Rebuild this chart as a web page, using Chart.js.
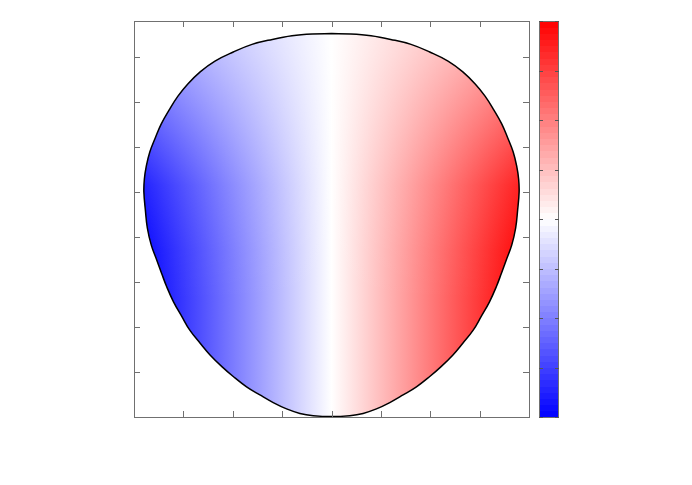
<!DOCTYPE html>
<html>
<head>
<meta charset="utf-8">
<script src="https://cdn.jsdelivr.net/npm/chart.js@4/dist/chart.umd.min.js"></script>
<style>
  html, body { margin: 0; padding: 0; background: #fff; }
  #wrap { width: 692px; height: 485px; }
</style>
</head>
<body>
<div id="wrap"><canvas id="shapeChart"></canvas></div>
<script>
// outline of the shape, clockwise from the top
const boundaryX = [4.00,
                   4.39, 4.80, 5.20, 5.61, 5.99, 6.36, 6.66, 6.91, 7.11, 7.29, 7.45, 7.57, 7.68, 7.75, 7.79, 7.80,
                   7.77, 7.73, 7.65, 7.54, 7.44, 7.34, 7.20, 7.03, 6.87, 6.66, 6.46, 6.22, 5.99, 5.72, 5.45, 5.18, 4.91, 4.64, 4.37, 4.00,
                   3.63, 3.36, 3.09, 2.82, 2.55, 2.28, 2.01, 1.78, 1.54, 1.34, 1.13, 0.97, 0.80, 0.66, 0.56, 0.46, 0.35, 0.27, 0.23,
                   0.20, 0.21, 0.25, 0.32, 0.43, 0.55, 0.71, 0.89, 1.09, 1.34, 1.64, 2.01, 2.39, 2.80, 3.20, 3.61, 4.00];
const boundaryY = [8.52,
                   8.51, 8.47, 8.39, 8.28, 8.11, 7.91, 7.67, 7.40, 7.13, 6.82, 6.51, 6.20, 5.89, 5.58, 5.29, 5.00,
                   4.60, 4.20, 3.82, 3.49, 3.19, 2.90, 2.56, 2.23, 1.93, 1.64, 1.38, 1.12, 0.90, 0.67, 0.49, 0.32, 0.18, 0.08, 0.03, 0.01,
                   0.03, 0.08, 0.18, 0.32, 0.49, 0.67, 0.90, 1.12, 1.38, 1.64, 1.93, 2.23, 2.56, 2.90, 3.19, 3.49, 3.82, 4.20, 4.60,
                   5.00, 5.29, 5.58, 5.89, 6.20, 6.51, 6.82, 7.13, 7.40, 7.67, 7.91, 8.11, 8.28, 8.39, 8.47, 8.51, 8.52];

const xTicks = [0, 1, 2, 3, 4, 5, 6, 7, 8];
const yTicks = [0, 1, 2, 3, 4, 5, 6, 7, 8];
const colorbarTicks = [-1, -0.75, -0.5, -0.25, 0, 0.25, 0.5, 0.75, 1];
const colorRangeX = [0.15, 7.85];      // x where the fill reaches full blue / full red
const fadeY = [8.5, 8.05, 6.4, 5.15, 3.7, 2.6];   // heights of the whitening toward the top
const fadeAlpha = [0.62, 0.57, 0.32, 0.13, 0.03, 0];

const points = boundaryX.map(function (x, i) { return { x: x, y: boundaryY[i] }; });

function sideGradient(context) {
    const chart = context.chart;
    if (!chart.chartArea) return 'rgba(0,0,0,0)';
    const xs = chart.scales.x;
    const g = chart.ctx.createLinearGradient(xs.getPixelForValue(colorRangeX[0]), 0, xs.getPixelForValue(colorRangeX[1]), 0);
    g.addColorStop(0, '#0000ff');
    g.addColorStop(0.5, '#ffffff');
    g.addColorStop(1, '#ff0000');
    return g;
}

function fadeGradient(context) {
    const chart = context.chart;
    if (!chart.chartArea) return 'rgba(0,0,0,0)';
    const ys = chart.scales.y;
    const top = ys.getPixelForValue(8.8), bottom = ys.getPixelForValue(0);
    const g = chart.ctx.createLinearGradient(0, top, 0, bottom);
    g.addColorStop(0, 'rgba(255,255,255,' + fadeAlpha[0] + ')');
    fadeY.forEach(function (v, i) {
        const t = (ys.getPixelForValue(v) - top) / (bottom - top);
        g.addColorStop(t, 'rgba(255,255,255,' + fadeAlpha[i] + ')');
    });
    g.addColorStop(1, 'rgba(255,255,255,0)');
    return g;
}

const frameAndColorbar = {
    id: 'frameAndColorbar',
    afterDraw: function (chart) {
        const ctx = chart.ctx;
        const a = chart.chartArea;
        const xs = chart.scales.x, ys = chart.scales.y;
        const tl = 6;
        ctx.save();
        ctx.strokeStyle = '#707070';
        ctx.lineWidth = 1;
        ctx.beginPath();
        xTicks.forEach(function (v) {
            const px = Math.round(xs.getPixelForValue(v)) + 0.5;
            ctx.moveTo(px, a.bottom); ctx.lineTo(px, a.bottom - tl);
            ctx.moveTo(px, a.top); ctx.lineTo(px, a.top + tl);
        });
        yTicks.forEach(function (v) {
            const py = Math.round(ys.getPixelForValue(v)) + 0.5;
            ctx.moveTo(a.left, py); ctx.lineTo(a.left + tl, py);
            ctx.moveTo(a.right, py); ctx.lineTo(a.right - tl, py);
        });
        ctx.stroke();
        ctx.strokeRect(Math.round(a.left) + 0.5, Math.round(a.top) + 0.5,
                       Math.round(a.right - a.left), Math.round(a.bottom - a.top));

        // colorbar
        const cbL = Math.round(a.right) + 10, cbW = 19;
        const cbT = Math.round(a.top), cbB = Math.round(a.bottom);
        const h = cbB - cbT;
        const steps = 64;
        for (let i = 0; i < steps; i++) {
            const t = (i + 0.5) / steps;
            let r, g, b;
            if (t < 0.5) { const k = t / 0.5; r = Math.round(255 * k); g = r; b = 255; }
            else { const k = (1 - t) / 0.5; r = 255; g = Math.round(255 * k); b = g; }
            ctx.fillStyle = 'rgb(' + r + ',' + g + ',' + b + ')';
            const y0 = cbB - h * (i + 1) / steps, y1 = cbB - h * i / steps;
            ctx.fillRect(cbL, Math.floor(y0), cbW, Math.ceil(y1) - Math.floor(y0));
        }
        ctx.strokeStyle = '#707070';
        ctx.strokeRect(cbL + 0.5, cbT + 0.5, cbW, h);
        ctx.strokeStyle = '#555';
        ctx.beginPath();
        colorbarTicks.forEach(function (v) {
            const py = Math.round(cbB - h * (v + 1) / 2) + 0.5;
            ctx.moveTo(cbL, py); ctx.lineTo(cbL + 4, py);
            ctx.moveTo(cbL + cbW + 1, py); ctx.lineTo(cbL + cbW - 3, py);
        });
        ctx.stroke();
        ctx.restore();
    }
};

const ctx = document.getElementById('shapeChart').getContext('2d');
const shapeChart = new Chart(ctx, {
    type: 'scatter',
    data: {
        datasets: [{
            data: points,
            showLine: true,
            fill: 'shape',
            backgroundColor: fadeGradient,
            borderColor: '#000000',
            borderWidth: 1.5,
            pointRadius: 0,
            tension: 0.4,
            capBezierPoints: false,
            order: 1
        }, {
            data: points,
            showLine: true,
            fill: 'shape',
            backgroundColor: sideGradient,
            borderWidth: 0,
            pointRadius: 0,
            tension: 0.4,
            capBezierPoints: false,
            order: 2
        }]
    },
    options: {
        responsive: true,
        maintainAspectRatio: false,
        animation: false,
        layout: { padding: { left: 134, top: 21, right: 163, bottom: 68 } },
        plugins: { legend: { display: false }, tooltip: { enabled: false } },
        scales: {
            x: { type: 'linear', min: 0, max: 8, display: false },
            y: { type: 'linear', min: 0, max: 8.8, display: false }
        }
    },
    plugins: [frameAndColorbar]
});
</script>
</body>
</html>
